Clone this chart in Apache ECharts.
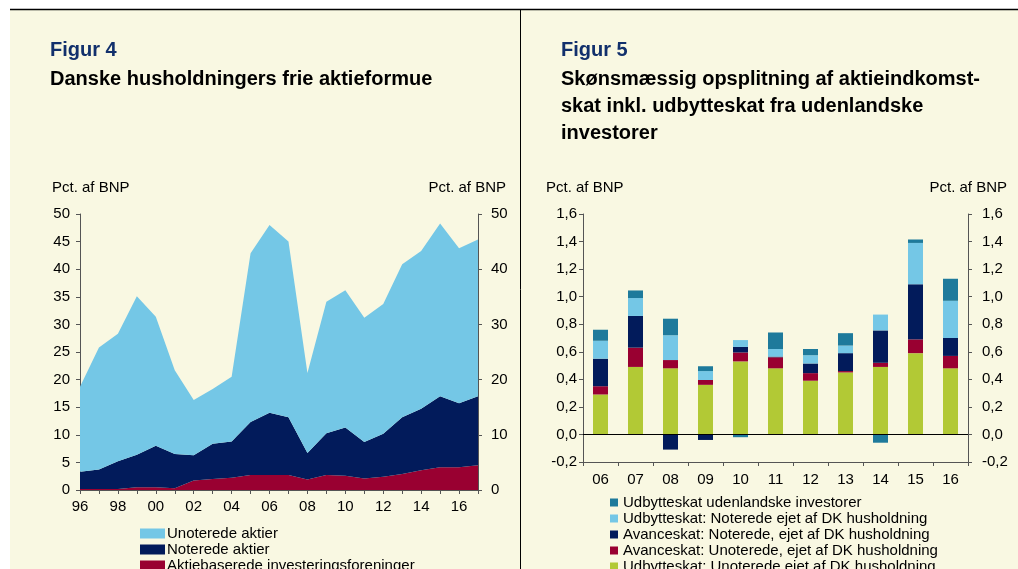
<!DOCTYPE html>
<html>
<head>
<meta charset="utf-8">
<script src="https://cdn.jsdelivr.net/npm/echarts@6/dist/echarts.min.js"></script>
<style>
html,body{margin:0;padding:0;background:#fff;}
#c{width:1018px;height:569px;}
</style>
</head>
<body>
<div id="c"></div>
<script>
// ---- Figur 4 data (pct. af BNP) ----
var years = ['96','97','98','99','00','01','02','03','04','05','06','07','08','09','10','11','12','13','14','15','16','17'];
var investForeninger = [0.2,0.2,0.2,0.5,0.5,0.3,1.7,2.0,2.2,2.7,2.7,2.7,1.9,2.7,2.6,2.1,2.4,2.9,3.6,4.1,4.1,4.5];
var noteredeAktier = [3.1,3.5,5.0,5.9,7.5,6.2,4.6,6.4,6.6,9.6,11.3,10.5,4.8,7.6,8.7,6.6,7.8,10.3,11.1,12.9,11.6,12.5];
var unoteredeAktier = [15.4,22.1,23.1,28.7,23.4,15.2,10.0,9.9,11.7,30.6,34.0,31.8,14.5,23.8,24.9,22.5,23.5,27.7,28.6,31.3,28.1,28.4];
var legend4 = ['Unoterede aktier','Noterede aktier','Aktiebaserede investeringsforeninger'];

// ---- Figur 5 data (pct. af BNP) ----
var years5 = ['06','07','08','09','10','11','12','13','14','15','16'];
var udbUnoterede = [0.29,0.49,0.48,0.36,0.53,0.48,0.39,0.45,0.49,0.59,0.48];
var avUnoterede = [0.06,0.14,0.06,0.035,0.065,0.08,0.055,0.01,0.03,0.10,0.09];
var avNoterede = [0.20,0.23,-0.11,-0.04,0.04,0.005,0.07,0.13,0.235,0.40,0.13];
var udbNoterede = [0.13,0.13,0.18,0.065,0.05,0.055,0.06,0.055,0.115,0.30,0.27];
var udbUdenlandske = [0.08,0.055,0.12,0.035,-0.02,0.12,0.045,0.09,-0.06,0.025,0.16];
var legend5 = ['Udbytteskat udenlandske investorer','Udbytteskat: Noterede ejet af DK husholdning','Avanceskat: Noterede, ejet af DK husholdning','Avanceskat: Unoterede, ejet af DK husholdning','Udbytteskat: Unoterede ejet af DK husholdning'];

var FONT = 'Liberation Sans, Arial, sans-serif';
var C_LB = '#74C7E6', C_NAVY = '#021B5B', C_RED = '#990031', C_TEAL = '#1E7A9B', C_GREEN = '#B2C935';
var AX = '#555555';

var chart = echarts.init(document.getElementById('c'));

function yAx(grid, pos, min, max, interval, margin, fmt){
  return {
    type:'value', gridIndex:grid, position:pos, min:min, max:max, interval:interval,
    axisLine:{show:true, lineStyle:{color:AX, width:1}},
    axisTick:{show:true, length:4, lineStyle:{color:AX}},
    splitLine:{show:false},
    axisLabel:{color:'#000', fontSize:15, fontFamily:FONT, margin:margin, formatter:fmt}
  };
}
var f5 = function(v){ return v.toFixed(1).replace('.', ','); };

var legends = [];
legend4.forEach(function(n, i){
  legends.push({left:140, top:526 + i*16, padding:0, itemWidth:25, itemHeight:10, icon:'rect',
    textStyle:{fontSize:15, fontFamily:FONT, color:'#000', padding:[0,0,0,-3]}, data:[n]});
});
legend5.forEach(function(n, i){
  legends.push({left:610, top:495 + i*16, padding:0, itemWidth:8, itemHeight:8, icon:'rect',
    textStyle:{fontSize:15, fontFamily:FONT, color:'#000', padding:[0,0,0,0]}, data:[n]});
});

var option = {
  backgroundColor:'#F9F8E2',
  animation:false,
  textStyle:{fontFamily:FONT},
  graphic:[
    {type:'rect', shape:{x:0,y:0,width:1018,height:9}, style:{fill:'#fff'}, silent:true},
    {type:'rect', shape:{x:0,y:0,width:10,height:569}, style:{fill:'#fff'}, silent:true},
    {type:'line', shape:{x1:10,y1:9.5,x2:1018,y2:9.5}, style:{stroke:'#000', lineWidth:1.5}, silent:true},
    {type:'line', shape:{x1:520.5,y1:10,x2:520.5,y2:569}, style:{stroke:'#000', lineWidth:1}, silent:true},
    {type:'text', left:50, top:40, style:{text:'Figur 4', font:'bold 20px '+FONT, fill:'#12306C'}},
    {type:'text', left:50, top:69, style:{text:'Danske husholdningers frie aktieformue', font:'bold 20px '+FONT, fill:'#000'}},
    {type:'text', left:561, top:40, style:{text:'Figur 5', font:'bold 20px '+FONT, fill:'#12306C'}},
    {type:'text', left:561, top:66, style:{text:'Skønsmæssig opsplitning af aktieindkomst-\nskat inkl. udbytteskat fra udenlandske\ninvestorer', font:'bold 20px '+FONT, fill:'#000', lineHeight:27}},
    {type:'text', left:52, top:180, style:{text:'Pct. af BNP', font:'15px '+FONT, fill:'#000'}},
    {type:'text', right:1018-506, top:180, style:{text:'Pct. af BNP', font:'15px '+FONT, fill:'#000'}},
    {type:'text', left:546, top:180, style:{text:'Pct. af BNP', font:'15px '+FONT, fill:'#000'}},
    {type:'text', right:11, top:180, style:{text:'Pct. af BNP', font:'15px '+FONT, fill:'#000'}}
  ],
  grid:[
    {left:80, top:214, width:398, height:276},
    {left:583, top:214, width:385, height:248}
  ],
  xAxis:[
    {type:'category', gridIndex:0, data:years, boundaryGap:false,
     axisLine:{show:true, lineStyle:{color:AX}},
     axisTick:{show:true, interval:0, length:4, lineStyle:{color:AX}},
     axisLabel:{interval:1, color:'#000', fontSize:15, fontFamily:FONT, margin:9},
     splitLine:{show:false}},
    {type:'category', gridIndex:1, data:years5, boundaryGap:true,
     axisLine:{show:true, onZero:false, lineStyle:{color:AX}},
     axisTick:{show:true, interval:0, length:4, lineStyle:{color:AX}},
     axisLabel:{interval:0, color:'#000', fontSize:15, fontFamily:FONT, margin:10},
     splitLine:{show:false}}
  ],
  yAxis:[
    yAx(0,'left',0,50,5,10),
    yAx(0,'right',0,50,10,13),
    yAx(1,'left',-0.2,1.6,0.2,6,f5),
    yAx(1,'right',-0.2,1.6,0.2,14,f5)
  ],
  legend:legends,
  series:[
    {name:'Aktiebaserede investeringsforeninger', type:'line', xAxisIndex:0, yAxisIndex:0, stack:'f4', data:investForeninger,
     symbol:'none', lineStyle:{width:0}, areaStyle:{color:C_RED, opacity:1}, itemStyle:{color:C_RED}},
    {name:'Noterede aktier', type:'line', xAxisIndex:0, yAxisIndex:0, stack:'f4', data:noteredeAktier,
     symbol:'none', lineStyle:{width:0}, areaStyle:{color:C_NAVY, opacity:1}, itemStyle:{color:C_NAVY}},
    {name:'Unoterede aktier', type:'line', xAxisIndex:0, yAxisIndex:0, stack:'f4', data:unoteredeAktier,
     symbol:'none', lineStyle:{width:0}, areaStyle:{color:C_LB, opacity:1}, itemStyle:{color:C_LB}},

    {name:'Udbytteskat: Unoterede ejet af DK husholdning', type:'bar', xAxisIndex:1, yAxisIndex:2, stack:'f5', barWidth:15,
     data:udbUnoterede, itemStyle:{color:C_GREEN},
     markLine:{silent:true, symbol:'none', label:{show:false}, lineStyle:{color:'#000', type:'solid', width:1}, data:[{yAxis:0}]}},
    {name:'Avanceskat: Unoterede, ejet af DK husholdning', type:'bar', xAxisIndex:1, yAxisIndex:2, stack:'f5', barWidth:15,
     data:avUnoterede, itemStyle:{color:C_RED}},
    {name:'Avanceskat: Noterede, ejet af DK husholdning', type:'bar', xAxisIndex:1, yAxisIndex:2, stack:'f5', barWidth:15,
     data:avNoterede, itemStyle:{color:C_NAVY}},
    {name:'Udbytteskat: Noterede ejet af DK husholdning', type:'bar', xAxisIndex:1, yAxisIndex:2, stack:'f5', barWidth:15,
     data:udbNoterede, itemStyle:{color:C_LB}},
    {name:'Udbytteskat udenlandske investorer', type:'bar', xAxisIndex:1, yAxisIndex:2, stack:'f5', barWidth:15,
     data:udbUdenlandske, itemStyle:{color:C_TEAL}}
  ]
};
chart.setOption(option);
</script>
</body>
</html>
